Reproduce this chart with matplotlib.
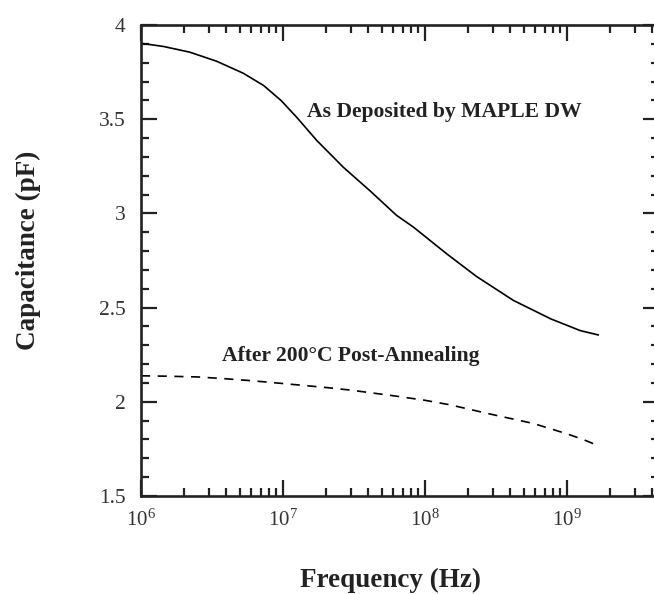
"""Capacitance vs frequency, as deposited and after annealing."""

import matplotlib

matplotlib.use("Agg")

import matplotlib.pyplot as plt
import numpy as np
from matplotlib.ticker import FuncFormatter, LogLocator, MultipleLocator, NullFormatter

# values
freq_deposited = [1e6, 1.44e6, 2.2e6, 3.4e6, 5.25e6, 7.3e6, 9.7e6, 1.25e7, 1.73e7,
                  2.66e7, 4.1e7, 6.3e7, 8.3e7, 1.42e8, 2.31e8, 4.2e8, 7.7e8,
                  1.24e9, 1.66e9]
cap_deposited = [3.903, 3.886, 3.856, 3.808, 3.744, 3.679, 3.599, 3.51, 3.387,
                 3.245, 3.12, 2.99, 2.927, 2.786, 2.665, 2.538, 2.44,
                 2.378, 2.355]

freq_annealed = [1e6, 1.5e6, 2.5e6, 4e6, 6e6, 1e7, 2e7, 3e7, 6e7, 1e8, 1.5e8,
                 3e8, 5.8e8, 1e9, 1.3e9, 1.65e9]
cap_annealed = [2.138, 2.136, 2.132, 2.122, 2.112, 2.097, 2.076, 2.062, 2.032,
                2.008, 1.984, 1.932, 1.885, 1.83, 1.80, 1.768]

label_deposited = "As Deposited by MAPLE DW"
label_annealed = "After 200°C Post-Annealing"

plt.rcParams["font.family"] = ["Liberation Serif", "DejaVu Serif"]
plt.rcParams["mathtext.fontset"] = "custom"
plt.rcParams["mathtext.rm"] = "Liberation Serif"
plt.rcParams["mathtext.it"] = "Liberation Serif"

fig = plt.figure(figsize=(6.54, 5.94), dpi=100)
ax = fig.add_axes([141 / 654, 98 / 594, 518 / 654, 471 / 594])

ax.plot(freq_deposited, cap_deposited, color="black", lw=1.2)
ax.plot(freq_annealed, cap_annealed, color="black", lw=1.2, dashes=(5.5, 4.5))

ax.set_xscale("log")
ax.set_xlim(1e6, 4.45e9)
ax.set_ylim(1.5, 4)

ax.xaxis.set_major_locator(LogLocator(base=10, numticks=10))
ax.xaxis.set_minor_locator(LogLocator(base=10, subs=np.arange(2, 10), numticks=20))
ax.xaxis.set_minor_formatter(NullFormatter())
ax.xaxis.set_major_formatter(
    FuncFormatter(lambda v, _: r"$\mathregular{10^{%d}}$" % round(np.log10(v))))
ax.yaxis.set_major_locator(MultipleLocator(0.5))
ax.yaxis.set_minor_locator(MultipleLocator(0.1))
ax.yaxis.set_major_formatter(FuncFormatter(lambda v, _: "%g" % v))

ax.tick_params(which="both", direction="in", top=True, right=True,
               colors="#222222", labelcolor="#333333")
ax.tick_params(which="major", length=11.5, width=1.6)
ax.tick_params(which="minor", length=6, width=1.6)
ax.tick_params(axis="y", which="major", pad=11, labelsize=15.5)
ax.tick_params(axis="x", which="major", pad=10, labelsize=15)
for spine in ax.spines.values():
    spine.set_linewidth(1.9)
    spine.set_color("#222222")

ax.text(307 / 654, 1 - 112 / 594, label_deposited, transform=fig.transFigure,
        fontsize=15.6, fontweight="bold", va="center", ha="left", color="#222222")
ax.text(222 / 654, 1 - 356 / 594, label_annealed, transform=fig.transFigure,
        fontsize=15.6, fontweight="bold", va="center", ha="left", color="#222222")

fig.text(391 / 654, 1 - 580 / 594, "Frequency (Hz)", fontsize=19.5,
         fontweight="bold", ha="center", va="center", color="#222222")
fig.text(28.5 / 654, 1 - 250 / 594, "Capacitance (pF)", fontsize=19.5,
         fontweight="bold", ha="center", va="center", rotation=90, color="#222222")

fig.savefig("out.png", dpi=100)
plt.close(fig)
